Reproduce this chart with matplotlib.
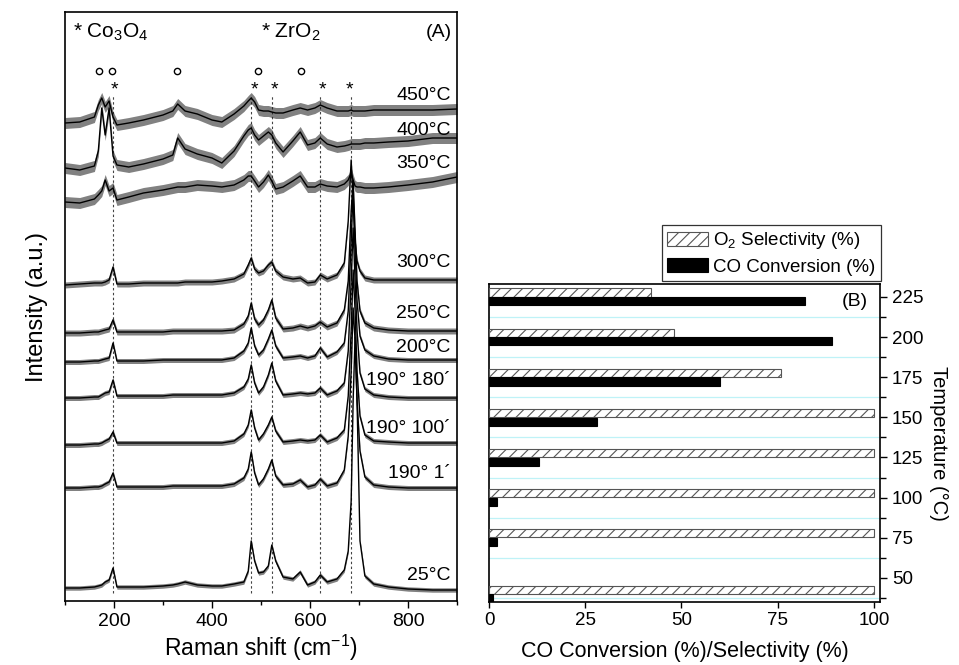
import matplotlib
matplotlib.use("Agg")
import matplotlib.pyplot as plt
from matplotlib.ticker import FixedLocator
import numpy as np

plt.rcParams['font.family'] = ['Liberation Sans', 'DejaVu Sans']
plt.rcParams['mathtext.fontset'] = 'custom'
plt.rcParams['mathtext.rm'] = 'Liberation Sans'
plt.rcParams['mathtext.it'] = 'Liberation Sans:italic'
plt.rcParams['mathtext.default'] = 'regular'
plt.rcParams['hatch.linewidth'] = 0.8

# ---------------- Panel A data: Raman spectra (stacked, a.u.) ----------------
raman_shift = [100, 130, 160, 168, 175, 182, 190, 198, 206, 230, 260, 300, 320, 330, 345,
               370, 400, 420, 445, 465, 474, 480, 487, 495, 505, 515, 522, 530, 545, 565,
               580, 595, 610, 621, 635, 655, 670, 678, 684, 688, 692, 696, 702, 712, 730,
               760, 800, 850, 900]

spec_450C = [478, 479, 484, 496, 503, 494, 500, 484, 476, 478, 481, 486, 490, 497, 490,
             487, 481, 479, 487, 495, 500, 503, 499, 491, 490, 490, 489, 488, 488, 491,
             493, 491, 493, 496, 493, 490, 490, 490, 491, 490, 490, 490, 490, 490, 491,
             491, 491, 491, 492]
spec_400C = [433, 431, 435, 450, 493, 466, 493, 445, 436, 434, 437, 442, 446, 463, 452,
             447, 443, 438, 450, 465, 471, 473, 466, 461, 465, 469, 466, 458, 449, 460,
             469, 456, 458, 463, 457, 454, 455, 456, 457, 457, 457, 457, 457, 458, 458,
             459, 460, 463, 463]
spec_350C = [399, 398, 402, 406, 410, 421, 410, 413, 401, 404, 408, 411, 413, 414, 414,
             416, 415, 414, 416, 421, 425, 425, 420, 414, 419, 426, 420, 412, 414, 420,
             425, 414, 414, 417, 415, 414, 417, 421, 428, 421, 415, 414, 414, 413, 413,
             414, 416, 419, 424]
spec_300C = [316, 317, 318, 318, 318, 319, 321, 334, 317, 317, 318, 318, 318, 318, 319,
             319, 319, 320, 322, 327, 336, 343, 332, 328, 330, 336, 339, 330, 324, 322,
             323, 318, 319, 326, 322, 326, 338, 380, 441, 400, 360, 340, 330, 323, 321,
             321, 321, 321, 321]
spec_250C = [268, 268, 269, 269, 270, 271, 272, 281, 269, 269, 269, 269, 270, 270, 270,
             270, 270, 270, 271, 277, 285, 298, 282, 276, 281, 291, 301, 283, 272, 273,
             275, 273, 275, 279, 274, 278, 291, 320, 390, 420, 370, 320, 290, 278, 273,
             271, 270, 270, 270]
spec_200C = [239, 239, 240, 240, 241, 242, 243, 258, 240, 240, 240, 241, 241, 241, 241,
             241, 241, 241, 243, 250, 258, 273, 255, 246, 251, 262, 271, 255, 243, 244,
             245, 243, 245, 253, 244, 249, 258, 290, 360, 410, 350, 300, 265, 251, 245,
             242, 241, 241, 241]
spec_190_180 = [203, 203, 204, 204, 206, 208, 209, 221, 205, 205, 205, 205, 206, 206, 206,
                206, 206, 206, 208, 214, 222, 236, 218, 208, 214, 226, 238, 220, 206, 207,
                208, 207, 208, 213, 206, 210, 218, 250, 320, 373, 320, 270, 228, 212, 206,
                204, 203, 203, 203]
spec_190_100 = [156, 156, 157, 157, 158, 160, 162, 169, 158, 158, 158, 158, 158, 158, 158,
                158, 158, 158, 160, 167, 176, 191, 173, 161, 167, 176, 184, 170, 159, 160,
                161, 160, 161, 166, 159, 163, 171, 205, 270, 331, 290, 230, 185, 166, 160,
                159, 158, 158, 158]
spec_190_1 = [113, 113, 114, 114, 115, 117, 119, 128, 114, 114, 114, 114, 115, 115, 115,
              115, 115, 115, 117, 123, 132, 149, 128, 116, 122, 132, 141, 125, 116, 117,
              121, 114, 116, 122, 115, 118, 131, 165, 230, 293, 260, 200, 150, 124, 116,
              114, 113, 113, 113]
spec_25C = [13, 13, 14, 15, 16, 19, 21, 33, 14, 14, 14, 15, 16, 17, 19,
            16, 15, 15, 17, 19, 30, 60, 40, 28, 29, 35, 56, 40, 24, 22,
            29, 16, 19, 26, 19, 22, 31, 50, 100, 200, 264, 200, 60, 25, 17,
            14, 12, 11, 11]

spectra = [spec_450C, spec_400C, spec_350C, spec_300C, spec_250C, spec_200C,
           spec_190_180, spec_190_100, spec_190_1, spec_25C]
spectrum_labels = ["450°C", "400°C", "350°C", "300°C", "250°C", "200°C",
                   "190° 180´", "190° 100´", "190° 1´", "25°C"]
label_heights = [506, 471, 438, 339, 288, 254, 221, 173, 128, 26]
noise_band = [5.5, 5.5, 5.5, 3, 3, 2.5, 2.5, 2.5, 2.5, 2.2]

co3o4_peaks = [200, 487, 527, 625, 680]
zro2_peaks = [169, 196, 328, 493, 582]
dashed_positions = [198, 480, 523, 621, 683]

# ---------------- Panel B data ----------------
temperatures = [225, 200, 175, 150, 125, 100, 75, 40]
o2_selectivity = [42, 48, 76, 100, 100, 100, 100, 100]
co_conversion = [82, 89, 60, 28, 13, 2, 2, 1]

fig = plt.figure(figsize=(9.59, 6.65), dpi=100)

# ================= Panel A =================
axA = fig.add_axes([65 / 959, 1 - 601 / 665, 392 / 959, 589 / 665])
xs = np.array(raman_shift, dtype=float)
for dp in dashed_positions:
    axA.plot([dp, dp], [8, 505], color='#444444', lw=0.8, ls=(0, (2.2, 2.2)), zorder=1)
for spec, band in zip(spectra, noise_band):
    ys = np.array(spec, dtype=float)
    axA.fill_between(xs, ys - band, ys + band, color='#1a1a1a', alpha=0.55, lw=0, zorder=2)
    axA.plot(xs, ys, color='black', lw=1.0, zorder=3)
for lab, h in zip(spectrum_labels, label_heights):
    axA.text(887, h, lab, ha='right', va='center', fontsize=14, zorder=4)
for p in co3o4_peaks:
    axA.text(p, 511, "*", ha='center', va='center', fontsize=14)
axA.plot(zro2_peaks, [530] * len(zro2_peaks), ls='none', marker='o', ms=4.5,
         mfc='white', mec='black', mew=1.0)
axA.text(116, 569, "* Co$_3$O$_4$", ha='left', va='center', fontsize=15)
axA.text(500, 569, "* ZrO$_2$", ha='left', va='center', fontsize=15)
axA.text(889, 569, "(A)", ha='right', va='center', fontsize=14)

axA.set_xlim(100, 900)
axA.set_ylim(0, 589)
axA.xaxis.set_major_locator(FixedLocator([200, 400, 600, 800]))
axA.xaxis.set_minor_locator(FixedLocator([100, 300, 500, 700, 900]))
axA.set_yticks([])
axA.tick_params(axis='x', which='major', direction='out', length=5, width=1.0, labelsize=14)
axA.tick_params(axis='x', which='minor', direction='out', length=3, width=1.0)
for s in axA.spines.values():
    s.set_linewidth(1.2)
axA.set_xlabel("Raman shift (cm$^{-1}$)", fontsize=16.5, labelpad=2)
axA.set_ylabel("Intensity (a.u.)", fontsize=17, labelpad=12)

# ================= Panel B =================
axB = fig.add_axes([489 / 959, 1 - 602 / 665, 391 / 959, 318 / 665])
t = np.array(temperatures, dtype=float)
bar_h = 5.0
off = 2.7
axB.barh(t + off, o2_selectivity, height=bar_h, color='white', edgecolor='#555555',
         hatch='///', lw=0.8, label="O$_2$ Selectivity (%)", zorder=3)
axB.barh(t - off, co_conversion, height=bar_h, color='black', edgecolor='black',
         lw=0.8, label="CO Conversion (%)", zorder=3)

minor_y = [37.5, 62.5, 87.5, 112.5, 137.5, 162.5, 187.5, 212.5]
for my in minor_y:
    axB.axhline(my, color='#bff2f7', lw=0.9, zorder=1)

axB.set_xlim(0, 101.6)
axB.set_ylim(35, 233)
axB.xaxis.set_major_locator(FixedLocator([0, 25, 50, 75, 100]))
axB.yaxis.set_major_locator(FixedLocator([50, 75, 100, 125, 150, 175, 200, 225]))
axB.yaxis.set_minor_locator(FixedLocator(minor_y))
axB.yaxis.tick_right()
axB.yaxis.set_label_position('right')
axB.tick_params(axis='y', which='major', direction='out', length=5, width=1.0,
                labelsize=13.5, left=False, right=True)
axB.tick_params(axis='y', which='minor', direction='out', length=4, width=1.0,
                left=False, right=True)
axB.tick_params(axis='x', which='major', direction='out', length=4, width=1.0, labelsize=13.5)
for s in axB.spines.values():
    s.set_linewidth(1.2)
axB.text(98.5, 222, "(B)", ha='right', va='center', fontsize=14)
axB.set_xlabel("CO Conversion (%)/Selectivity (%)", fontsize=15.5, labelpad=8)
axB.set_ylabel("Temperature (°C)", fontsize=14.5, rotation=270, labelpad=18)

leg = axB.legend(loc='lower right', bbox_to_anchor=(1.003, 1.009), borderaxespad=0,
                 fontsize=13.5, frameon=True, fancybox=False, framealpha=1,
                 edgecolor='#333333', handlelength=2.15, handleheight=0.8,
                 handletextpad=0.3, labelspacing=0.35, borderpad=0.3)
leg.get_frame().set_linewidth(0.9)

fig.savefig("out.png", dpi=100)
